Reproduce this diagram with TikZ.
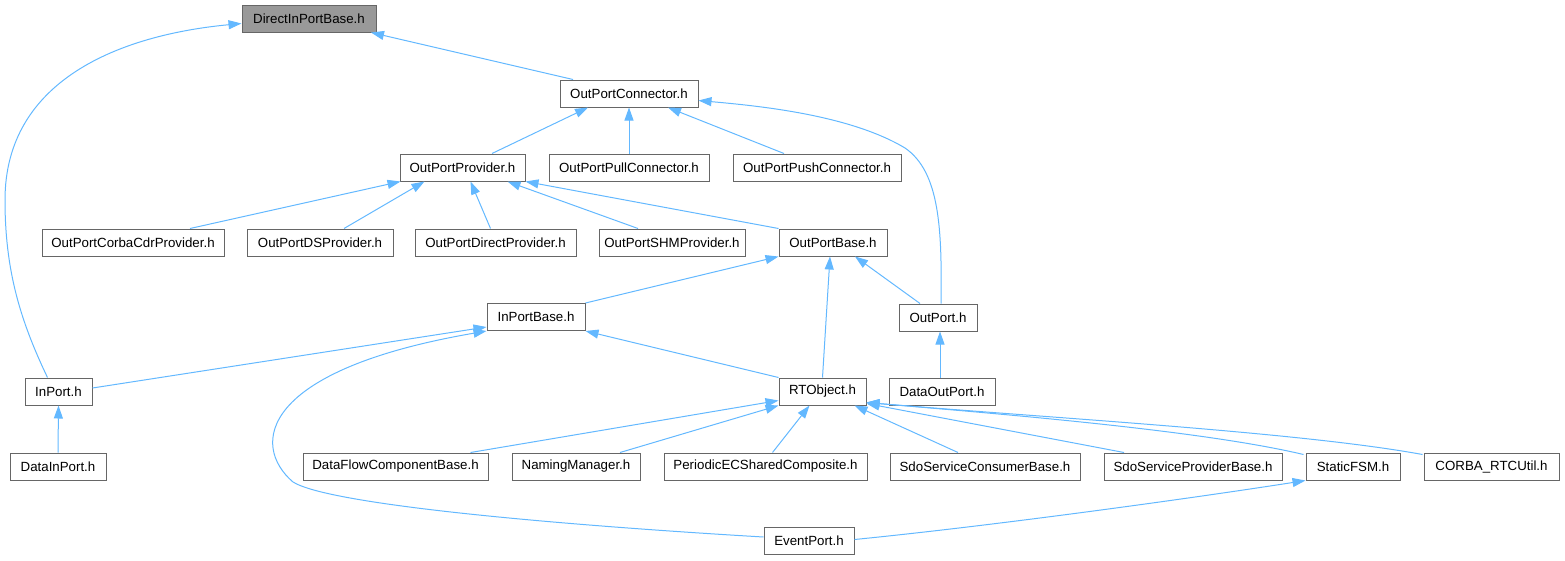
\documentclass[tikz,border=0pt]{standalone}
\usepackage{fontspec}
\setmainfont{Liberation Sans}
\usetikzlibrary{arrows.meta,calc}
\definecolor{edgeblue}{HTML}{63B8FF}
\definecolor{boxgray}{HTML}{666666}
\definecolor{fillgray}{HTML}{999999}
\begin{document}
\begin{tikzpicture}[x=1pt,y=-1pt,
  box/.style={draw=boxgray, fill=white, line width=1pt, minimum height=27pt, inner sep=0pt,
    font=\fontsize{13.3}{15}\selectfont, text=black},
  hibox/.style={box, fill=fillgray},
  edge/.style={draw=edgeblue, line width=1pt, -{Triangle[length=13pt,width=9pt]}}]
\useasboundingbox (0,0) rectangle (1565,560);
% nodes
\node[hibox, minimum width=134] (dip) at (309,18.5) {DirectInPortBase.h};
\node[box, minimum width=138] (opc) at (629,93.5) {OutPortConnector.h};
\node[box, minimum width=125] (opp) at (462.5,167.5) {OutPortProvider.h};
\node[box, minimum width=160] (oppull) at (629,167.5) {OutPortPullConnector.h};
\node[box, minimum width=168] (oppush) at (817,167.5) {OutPortPushConnector.h};
\node[box, minimum width=182] (corba) at (133,242.5) {OutPortCorbaCdrProvider.h};
\node[box, minimum width=146] (ds) at (320,242.5) {OutPortDSProvider.h};
\node[box, minimum width=161] (direct) at (495.5,242.5) {OutPortDirectProvider.h};
\node[box, minimum width=146] (shm) at (672,242.5) {OutPortSHMProvider.h};
\node[box, minimum width=108] (opb) at (833,242.5) {OutPortBase.h};
\node[box, minimum width=98] (ipb) at (536,317) {InPortBase.h};
\node[box, minimum width=78] (op) at (938,317.5) {OutPort.h};
\node[box, minimum width=67] (inport) at (58.5,391.5) {InPort.h};
\node[box, minimum width=87] (rto) at (822.5,391.5) {RTObject.h};
\node[box, minimum width=106] (dop) at (942,391.5) {DataOutPort.h};
\node[box, minimum width=96] (dinp) at (58,466.5) {DataInPort.h};
\node[box, minimum width=185] (dfc) at (395.5,466.5) {DataFlowComponentBase.h};
\node[box, minimum width=128] (nm) at (576,466.5) {NamingManager.h};
\node[box, minimum width=203] (pec) at (765.5,466.5) {PeriodicECSharedComposite.h};
\node[box, minimum width=190] (sdoc) at (985,466.5) {SdoServiceConsumerBase.h};
\node[box, minimum width=178] (sdop) at (1193,466.5) {SdoServiceProviderBase.h};
\node[box, minimum width=94] (sfsm) at (1353,466.5) {StaticFSM.h};
\node[box, minimum width=135] (corbau) at (1491.5,466.5) {CORBA\_RTCUtil.h};
\node[box, minimum width=90] (ep) at (809,540.5) {EventPort.h};
% edges
\draw[edge] ($(opc.north)+(-56,0)$) -- ($(dip.south)+(62,0)$);
\draw[edge] ($(inport.north)+(-11,0)$) .. controls (20,320) and (5,270) .. (5,200)
  .. controls (5,80) and (120,35) .. ($(dip.west)+(0,5)$);
\draw[edge] ($(opp.north)+(29.5,0)$) -- ($(opc.south)+(-41,0)$);
\draw[edge] (oppull.north) -- (oppull.north |- opc.south);
\draw[edge] ($(oppush.north)+(-33,0)$) -- ($(opc.south)+(39,0)$);
\draw[edge] ($(op.north)+(3,0)$) .. controls (942,230) and (940,172) .. (905,148)
  .. controls (850,115) and (760,106) .. ($(opc.east)+(0,7)$);
\draw[edge] ($(corba.north)+(57,0)$) -- ($(opp.south)+(-62,0)$);
\draw[edge] ($(ds.north)+(24,0)$) -- ($(opp.south)+(-38,0)$);
\draw[edge] ($(direct.north)+(-5,0)$) -- ($(opp.south)+(8,0)$);
\draw[edge] ($(shm.north)+(-34,0)$) -- ($(opp.south)+(45,0)$);
\draw[edge] (opb.north west) -- (opp.south east);
\draw[edge] (ipb.north east) -- (opb.south west);
\draw[edge] (rto.north) -- ($(opb.south)+(-3,0)$);
\draw[edge] ($(op.north)+(-18,0)$) -- ($(opb.south)+(22,0)$);
\draw[edge] ($(dop.north)+(-2,0)$) -- ($(op.south)+(2,0)$);
\draw[edge] ($(inport.east)+(0,-3.5)$) -- ($(ipb.south west)+(0,-4)$);
\draw[edge] (rto.north west) -- (ipb.south east);
\draw[edge] ($(ep.west)+(0,-3.5)$) .. controls (560,525) and (330,505) .. (293,482)
  .. controls (250,445) and (260,370) .. (ipb.south west);
\draw[edge] (dinp.north) -- (inport.south);
\draw[edge] ($(dfc.north)+(75,0)$) -- ($(rto.west)+(0,9)$);
\draw[edge] ($(nm.north)+(44,0)$) -- (rto.south west);
\draw[edge] ($(pec.north)+(7,0)$) -- ($(rto.south)+(-13,0)$);
\draw[edge] ($(sdoc.north)+(-27,0)$) -- ($(rto.south)+(32,0)$);
\draw[edge] ($(sdop.north)+(-69,0)$) -- ($(rto.south east)+(0,-2)$);
\draw[edge] ($(sfsm.north west)+(-2,2)$) .. controls (1200,430) and (1000,414) .. ($(rto.east)+(0,11)$);
\draw[edge] ($(corbau.north west)+(-1,2)$) .. controls (1300,432) and (1050,418) .. ($(rto.east)+(0,11)$);
\draw[edge] ($(ep.east)+(0,-1)$) .. controls (1000,525) and (1200,497) .. (sfsm.south west);
\end{tikzpicture}
\end{document}
